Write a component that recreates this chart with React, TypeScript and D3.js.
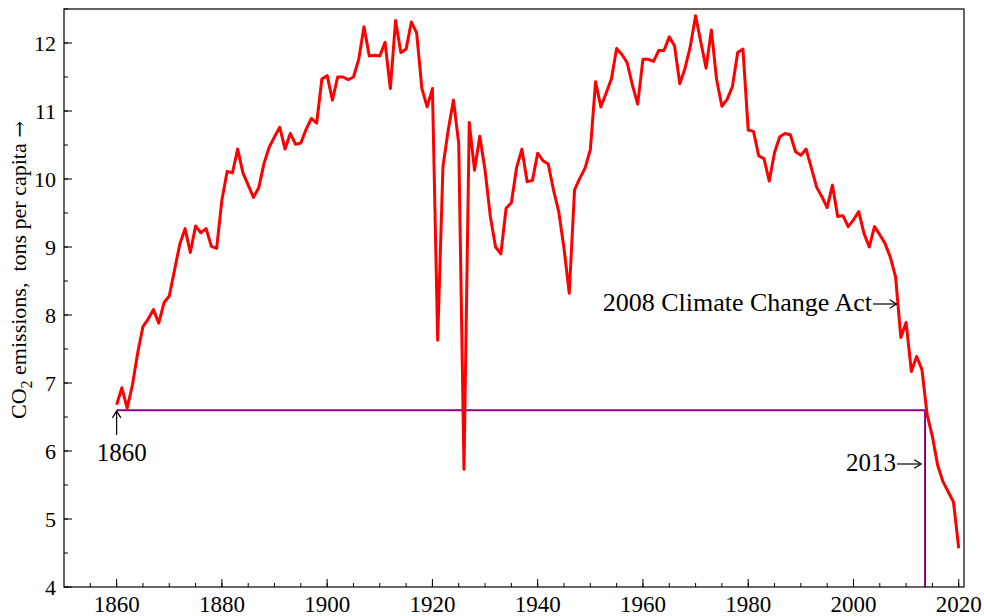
import React from 'react';
import * as d3 from 'd3';

// UK per-capita CO2 emissions, tons, 1860-2020
const years: number[] = d3.range(1860, 2021);
const emissions: number[] = [
  6.68, 6.93, 6.63, 6.97, 7.44, 7.83, 7.94, 8.08, 7.88, 8.18,
  8.28, 8.66, 9.04, 9.27, 8.92, 9.31, 9.21, 9.27, 9.01, 8.98,
  9.69, 10.11, 10.09, 10.44, 10.09, 9.91, 9.73, 9.87, 10.23, 10.47,
  10.62, 10.76, 10.44, 10.67, 10.51, 10.53, 10.73, 10.89, 10.82, 11.47,
  11.52, 11.16, 11.5, 11.5, 11.46, 11.5, 11.76, 12.24, 11.81, 11.82,
  11.81, 12.01, 11.33, 12.33, 11.86, 11.91, 12.31, 12.15, 11.33, 11.06,
  11.33, 7.63, 10.18, 10.72, 11.16, 10.52, 5.73, 10.83, 10.13, 10.63,
  10.13, 9.45, 9.0, 8.9, 9.57, 9.65, 10.17, 10.44, 9.96, 9.98,
  10.38, 10.27, 10.22, 9.84, 9.52, 8.98, 8.32, 9.84, 10.01, 10.16,
  10.43, 11.43, 11.06, 11.26, 11.47, 11.92, 11.83, 11.71, 11.38, 11.1,
  11.76, 11.76, 11.73, 11.89, 11.89, 12.09, 11.96, 11.4, 11.63, 11.95,
  12.4, 12.01, 11.63, 12.19, 11.46, 11.07, 11.17, 11.36, 11.86, 11.91,
  10.72, 10.7, 10.34, 10.3, 9.97, 10.39, 10.62, 10.67, 10.65, 10.4,
  10.35, 10.44, 10.16, 9.88, 9.74, 9.58, 9.91, 9.45, 9.46, 9.3,
  9.4, 9.52, 9.2, 9.0, 9.3, 9.18, 9.05, 8.85, 8.56, 7.67,
  7.89, 7.17, 7.39, 7.2, 6.53, 6.21, 5.79, 5.55, 5.4, 5.25,
  4.57,
];

const xMajorTicks = [1860, 1880, 1900, 1920, 1940, 1960, 1980, 2000, 2020];
const xMinorTicks = d3.range(1855, 2021, 5);
const yMajorTicks = [4, 5, 6, 7, 8, 9, 10, 11, 12];
const yMinorTicks = d3.range(4, 12.51, 0.5);

// reference level (1860) and the year it was reached again
const baseLevel = 6.6;
const baseStart = 1860;
const crossYear = 2013.6;
const actYear = 2008;

const W = 984;
const H = 616;
const margin = { top: 9, right: 20, bottom: 29, left: 64 };
const font = '"Liberation Serif", "Times New Roman", serif';

const Arrow = ({ x1, y1, x2, y2 }: { x1: number; y1: number; x2: number; y2: number }) => {
  const a = Math.atan2(y2 - y1, x2 - x1);
  const h = 8;
  const s = 0.55;
  const p1 = [x2 - h * Math.cos(a - s), y2 - h * Math.sin(a - s)];
  const p2 = [x2 - h * Math.cos(a + s), y2 - h * Math.sin(a + s)];
  return (
    <g stroke="#000" strokeWidth={1.2} fill="none">
      <line x1={x1} y1={y1} x2={x2} y2={y2} />
      <path d={`M${p1[0]},${p1[1]}L${x2},${y2}L${p2[0]},${p2[1]}`} />
    </g>
  );
};

export default function App() {
  const x = d3.scaleLinear().domain([1850, 2021]).range([margin.left, W - margin.right]);
  const y = d3.scaleLinear().domain([4, 12.5]).range([H - margin.bottom, margin.top]);

  const line = d3
    .line<number>()
    .x((_, i) => x(years[i]))
    .y(d => y(d));

  const x0 = x.range()[0];
  const x1 = x.range()[1];
  const yb = y.range()[0];
  const yt = y.range()[1];

  return (
    <svg
      width={W}
      height={H}
      style={{ position: 'absolute', left: 0, top: 0, background: '#fff' }}
      fontFamily={font}
    >
      <rect x={0} y={0} width={W} height={H} fill="#fff" />

      {/* purple reference lines */}
      <path
        d={`M${x(baseStart)},${y(baseLevel)}H${x(crossYear)}V${yb}`}
        fill="none"
        stroke="#8b008b"
        strokeWidth={2}
      />

      {/* data */}
      <path d={line(emissions) || ''} fill="none" stroke="#ff0000" strokeWidth={3} strokeLinejoin="round" />

      {/* frame */}
      <rect x={x0} y={yt} width={x1 - x0} height={yb - yt} fill="none" stroke="#000" strokeWidth={1.2} />

      {/* x ticks */}
      {xMinorTicks.map(t => (
        <line key={'xm' + t} x1={x(t)} x2={x(t)} y1={yb} y2={yb - 4} stroke="#000" strokeWidth={1} />
      ))}
      {xMajorTicks.map(t => (
        <g key={'xM' + t}>
          <line x1={x(t)} x2={x(t)} y1={yb} y2={yb - 8} stroke="#000" strokeWidth={1} />
          <text x={x(t)} y={612} textAnchor="middle" fontSize={23} fill="#000">
            {t}
          </text>
        </g>
      ))}

      {/* y ticks */}
      {yMinorTicks.map(t => (
        <line key={'ym' + t} x1={x0} x2={x0 + 4} y1={y(t)} y2={y(t)} stroke="#000" strokeWidth={1} />
      ))}
      {yMajorTicks.map(t => (
        <g key={'yM' + t}>
          <line x1={x0} x2={x0 + 8} y1={y(t)} y2={y(t)} stroke="#000" strokeWidth={1} />
          <text x={56} y={y(t)} dy="0.35em" textAnchor="end" fontSize={22} fill="#000">
            {t}
          </text>
        </g>
      ))}

      {/* y axis title */}
      <text transform="translate(26,270) rotate(-90)" textAnchor="middle" fontSize={22} fill="#000">
        CO
        <tspan dy={6} fontSize={16}>2</tspan>
        <tspan dy={-6}>{' emissions,\u00a0 tons per capita '}</tspan>
        <tspan fontFamily='"DejaVu Serif", serif' fontSize={20}>{'\u2192'}</tspan>
      </text>

      {/* 1860 annotation */}
      <Arrow x1={x(baseStart)} y1={435} x2={x(baseStart)} y2={411} />
      <text x={x(baseStart) + 5} y={461} textAnchor="middle" fontSize={25} fill="#000">
        {baseStart}
      </text>

      {/* 2008 annotation */}
      <text x={872} y={311} textAnchor="end" fontSize={26} fill="#000">
        {actYear} Climate Change Act
      </text>
      <Arrow x1={873} y1={304} x2={x(actYear) + 1} y2={304} />

      {/* 2013 annotation */}
      <text x={896} y={471} textAnchor="end" fontSize={25} fill="#000">
        2013
      </text>
      <Arrow x1={897} y1={464} x2={x(crossYear) - 4} y2={464} />
    </svg>
  );
}
